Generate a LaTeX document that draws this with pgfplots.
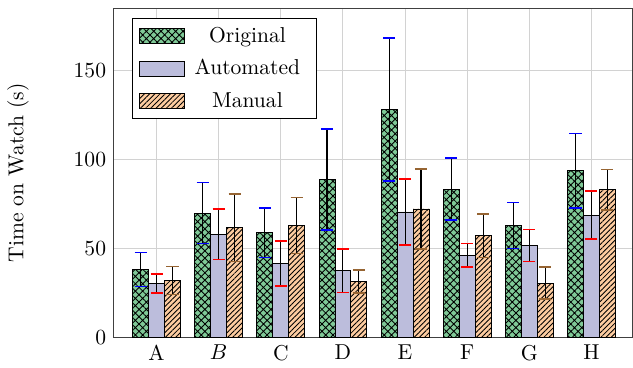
\documentclass[border=0pt]{standalone}
\usepackage{pgfplots}
\pgfplotsset{compat=1.18}
\usetikzlibrary{patterns.meta}
\definecolor{origc}{RGB}{127,201,151}
\definecolor{autoc}{RGB}{188,189,220}
\definecolor{manc}{RGB}{253,204,160}
\definecolor{brownc}{RGB}{150,100,50}
\begin{document}
\begin{tikzpicture}
\begin{axis}[name=ax,
 width=240.6pt,height=152.8pt,scale only axis,
 ybar=0pt, bar width=7.4pt,
 xmin=-0.69,xmax=7.66,ymin=0,ymax=185.4,
 xtick={0,...,7}, xticklabels={A,$B$,C,D,E,F,G,H},
 ytick={0,50,100,150},
 grid=major, grid style={gray!35, line width=0.5pt},
 major tick length=0pt,
 axis line style={black!75},
 ylabel={Time on Watch (s)},
 y label style={at={(axis description cs:-0.1845,0.5)}, anchor=center},
 /pgf/number format/assume math mode=true,
 tick label style={font=\fontsize{10}{12}\selectfont},
 legend cell align=center,
 legend style={at={(0.035,0.97)},anchor=north west, draw=black, row sep=2.5pt, font=\fontsize{10}{12}\selectfont},
 legend image code/.code={\draw[#1] (0pt,-3.5pt) rectangle (21pt,3.5pt);},
 error bars/error bar style={black, line width=0.5pt},
]
\addplot[fill=origc, draw=black, postaction={pattern={Hatch[angle=45,distance=2.4pt,line width=0.4pt]}},
 error bars/.cd, y dir=both, y explicit, error mark options={rotate=90,blue,mark size=2.8pt,line width=0.8pt}]
 coordinates {(0,38.2) +- (0,9.6) (1,70) +- (0,17.2) (2,59) +- (0,14) (3,88.9) +- (0,28.6)
 (4,128.3) +- (0,40.4) (5,83.4) +- (0,17.5) (6,63) +- (0,13) (7,93.8) +- (0,21)};
\addplot[fill=autoc, draw=black,
 error bars/.cd, y dir=both, y explicit, error mark options={rotate=90,red,mark size=2.8pt,line width=0.8pt}]
 coordinates {(0,30.3) +- (0,5.4) (1,58) +- (0,14.2) (2,41.5) +- (0,12.6) (3,37.6) +- (0,12.3)
 (4,70.6) +- (0,18.5) (5,46.2) +- (0,6.7) (6,51.7) +- (0,9) (7,68.9) +- (0,13.6)};
\addplot[fill=manc, draw=black, postaction={pattern={Lines[angle=45,distance=1.7pt,line width=0.4pt]}},
 error bars/.cd, y dir=both, y explicit, error mark options={rotate=90,brownc,mark size=2.8pt,line width=0.8pt}]
 coordinates {(0,32) +- (0,7.9) (1,61.8) +- (0,19) (2,63) +- (0,15.7) (3,31.6) +- (0,6.5)
 (4,72.3) +- (0,22.5) (5,57.3) +- (0,12.3) (6,30.6) +- (0,9) (7,83.2) +- (0,11.3)};
\legend{\makebox[54pt]{Original},\makebox[54pt]{Automated},\makebox[54pt]{Manual}}
\end{axis}
\path ([yshift=3.7pt]ax.north east);
\end{tikzpicture}
\end{document}
